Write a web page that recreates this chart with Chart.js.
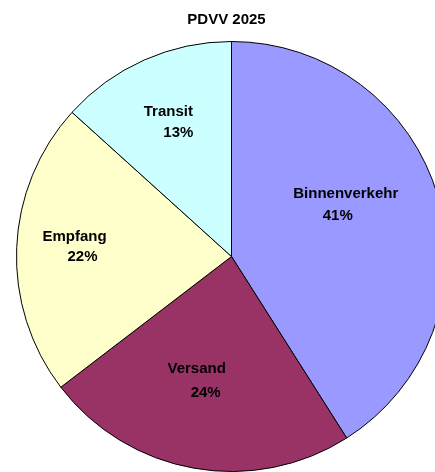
<!DOCTYPE html>
<html>
<head>
<meta charset="utf-8">
<script src="https://cdn.jsdelivr.net/npm/chart.js@4"></script>
<style>
    html, body { margin: 0; padding: 0; background: #fff; overflow: hidden; }
    #wrap { position: absolute; left: 0; top: 0; width: 462px; height: 472px; }
</style>
</head>
<body>
<div id="wrap"><canvas id="chart" width="462" height="472"></canvas></div>
<script>
// Chart data
const chartTitle = 'PDVV 2025';
const categories = ['Binnenverkehr', 'Versand', 'Empfang', 'Transit'];
const shares = [41.0, 23.6, 22.1, 13.3];
const sliceColors = ['#9999FF', '#993366', '#FFFFCC', '#CCFFFF'];

// Label placement relative to each slice's centre point: [name dx, name dy, pct dx, pct dy]
const labelOffsets = [
    [11, -32.5, 3, -10.5],
    [-16, 7, -7, 30.5],
    [-49.6, -15.7, -41.6, 4.3],
    [-19.5, -46, -9.5, -25]
];

const FONT = 'bold 15px "Liberation Sans", Arial, sans-serif';

/**
 * Draws the title and the in-slice labels (name + percent)
 */
const sliceLabels = {
    id: 'sliceLabels',
    afterDraw(chart) {
        const ctx = chart.ctx;
        const meta = chart.getDatasetMeta(0);
        ctx.save();
        ctx.font = FONT;
        ctx.fillStyle = '#000';
        ctx.textAlign = 'center';
        ctx.textBaseline = 'middle';

        ctx.fillText(chartTitle, 226.5, 19.5);

        meta.data.forEach((arc, i) => {
            const pos = arc.tooltipPosition();
            const off = labelOffsets[i];
            ctx.fillText(categories[i], pos.x + off[0], pos.y + off[1]);
            ctx.fillText(Math.round(shares[i]) + '%', pos.x + off[2], pos.y + off[3]);
        });
        ctx.restore();
    }
};

new Chart(document.getElementById('chart'), {
    type: 'pie',
    data: {
        labels: categories,
        datasets: [{
            data: shares,
            backgroundColor: sliceColors,
            borderColor: '#000',
            borderWidth: 1,
            hoverOffset: 0
        }]
    },
    options: {
        responsive: false,
        animation: false,
        events: [],
        layout: { padding: { top: 41, left: 16, right: 15, bottom: 0 } },
        plugins: {
            legend: { display: false },
            title: { display: false },
            tooltip: { enabled: false }
        }
    },
    plugins: [sliceLabels]
});
</script>
</body>
</html>
